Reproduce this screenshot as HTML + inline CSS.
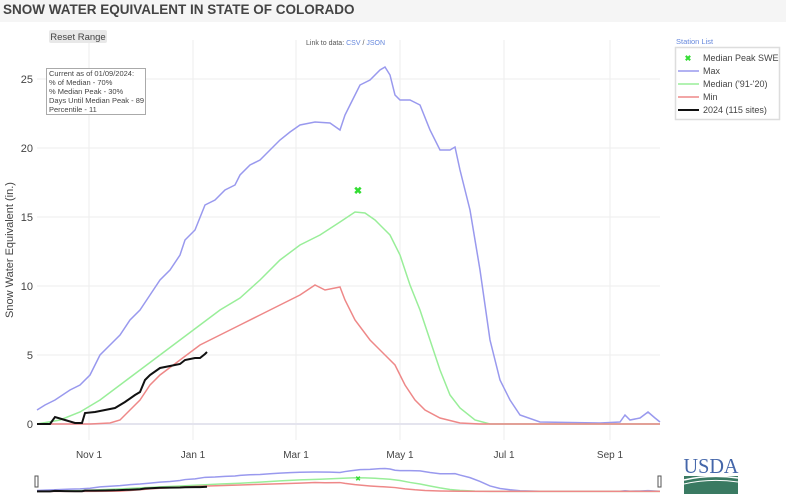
<!DOCTYPE html>
<html><head><style>
body{margin:0;width:786px;height:500px;background:#f5f5f5;font-family:"Liberation Sans",sans-serif;overflow:hidden;position:relative}
.t{position:absolute;left:3px;top:2px;font-weight:bold;font-size:13.5px;color:#444}
.panel{position:absolute;left:0;top:22px;width:786px;height:478px;background:#fff}
</style></head><body>
<div class="t">SNOW WATER EQUIVALENT IN STATE OF COLORADO</div>
<div class="panel"></div>
<svg width="786" height="500" style="position:absolute;left:0;top:0" font-family="Liberation Sans, sans-serif">
<defs>
<g id="series" fill="none" stroke-width="1.5">
<polyline vector-effect="non-scaling-stroke" stroke="#9999ee" points="37,410 45,405 55,400 70,390 80,385 90,375 100,355 110,345 120,335 130,320 140,310 150,295 160,280 170,270 180,255 185,240 195,230 205,205 215,200 225,190 235,185 240,175 250,165 260,160 270,150 280,140 290,132 300,125 315,122 330,123 340,130 345,115 350,105 360,85 370,80 380,70 385,67 390,75 395,95 400,100 410,100 420,105 430,130 440,150 450,150 455,147 460,170 470,210 480,270 490,340 500,380 510,400 520,415 540,422 600,423 620,422 625,415 630,420 640,418 648,412 655,418 660,422"/>
<polyline vector-effect="non-scaling-stroke" stroke="#99ee99" points="37,424 60,420 80,412 100,400 120,385 140,370 160,355 180,340 200,325 220,310 240,298 260,280 280,260 300,245 320,235 340,222 355,212 365,213 375,220 390,235 400,255 410,285 420,310 430,340 440,370 450,395 460,408 475,420 490,424 660,424"/>
<polyline vector-effect="non-scaling-stroke" stroke="#ee8888" points="37,424 90,424 110,423 120,420 130,410 140,400 150,385 160,375 180,360 200,345 220,335 240,325 260,315 280,305 300,295 315,285 325,290 340,287 345,300 355,320 370,340 385,355 395,365 405,385 415,400 425,410 440,418 460,423 480,424 660,424"/>
<polyline vector-effect="non-scaling-stroke" stroke="#111" stroke-width="2" points="37,424 50,424 55,417 65,420 75,423 82,423 85,413 95,412 105,410 115,408 125,402 135,395 140,392 145,380 150,375 160,368 170,366 180,364 185,360 195,358 200,358 205,354 207,352"/>
</g>
</defs>
<g stroke="#eee" stroke-width="1">
<line x1="89" y1="40" x2="89" y2="440"/><line x1="193" y1="40" x2="193" y2="440"/><line x1="296" y1="40" x2="296" y2="440"/><line x1="400" y1="40" x2="400" y2="440"/><line x1="504" y1="40" x2="504" y2="440"/><line x1="610" y1="40" x2="610" y2="440"/>
<line x1="37" y1="79" x2="660" y2="79"/><line x1="37" y1="148" x2="660" y2="148"/><line x1="37" y1="217" x2="660" y2="217"/><line x1="37" y1="286" x2="660" y2="286"/><line x1="37" y1="355" x2="660" y2="355"/>
</g>
<line x1="37" y1="424" x2="660" y2="424" stroke="#e4e4ee" stroke-width="2"/>
<g font-size="11" fill="#444" text-anchor="end">
<text x="33" y="83">25</text><text x="33" y="152">20</text><text x="33" y="221">15</text><text x="33" y="290">10</text><text x="33" y="359">5</text><text x="33" y="428">0</text>
</g>
<g font-size="10" fill="#444" text-anchor="middle">
<text x="89" y="458">Nov 1</text><text x="193" y="458">Jan 1</text><text x="296" y="458">Mar 1</text><text x="400" y="458">May 1</text><text x="504" y="458">Jul 1</text><text x="610" y="458">Sep 1</text>
</g>
<text transform="translate(13,250) rotate(-90)" font-size="11" fill="#444" text-anchor="middle">Snow Water Equivalent (in.)</text>
<use href="#series"/>
<text x="358" y="194" font-size="10" fill="#33dd33" text-anchor="middle" font-weight="bold">✖</text>
<g transform="translate(0,464.2) scale(1,0.064)"><use href="#series"/></g>
<text x="358" y="481" font-size="7" fill="#33dd33" text-anchor="middle">✖</text>
<rect x="35" y="476" width="3" height="11" fill="#fff" stroke="#555"/>
<rect x="658" y="476" width="3" height="11" fill="#fff" stroke="#555"/>
<rect x="49" y="30" width="58" height="13" rx="2" fill="#e8e8e8"/>
<text x="78" y="40" font-size="9.5" fill="#444" text-anchor="middle">Reset Range</text>
<text x="306" y="45" font-size="7" fill="#555">Link to data: <tspan fill="#6688dd">CSV</tspan> / <tspan fill="#6688dd">JSON</tspan></text>
<rect x="46.5" y="68.5" width="99" height="46" fill="#fff" stroke="#aaa"/>
<g font-size="7.5" fill="#444">
<text x="49" y="76">Current as of 01/09/2024:</text>
<text x="49" y="85">% of Median - 70%</text>
<text x="49" y="94">% Median Peak - 30%</text>
<text x="49" y="103">Days Until Median Peak - 89</text>
<text x="49" y="112">Percentile - 11</text>
</g>
<text x="676" y="44" font-size="7.5" fill="#6688dd">Station List</text>
<rect x="675.5" y="47.5" width="104" height="72" fill="#fff" stroke="#ddd" stroke-width="1.5"/>
<g font-size="9" fill="#444">
<text x="688" y="61" font-size="8" fill="#33dd33" text-anchor="middle" font-weight="bold">✖</text><text x="703" y="61">Median Peak SWE</text>
<line x1="678" y1="71" x2="699" y2="71" stroke="#9999ee" stroke-width="1.5"/><text x="703" y="74">Max</text>
<line x1="678" y1="84" x2="699" y2="84" stroke="#99ee99" stroke-width="1.5"/><text x="703" y="87">Median ('91-'20)</text>
<line x1="678" y1="97" x2="699" y2="97" stroke="#ee8888" stroke-width="1.5"/><text x="703" y="100">Min</text>
<line x1="678" y1="110" x2="699" y2="110" stroke="#111" stroke-width="2"/><text x="703" y="113">2024 (115 sites)</text>
</g>
<text x="711" y="473" font-size="21" fill="#4466aa" text-anchor="middle" font-family="Liberation Serif, serif" textLength="55" lengthAdjust="spacingAndGlyphs">USDA</text>
<rect x="684" y="476" width="54" height="18" fill="#3a7a62"/>
<path d="M684,480 Q710,474 738,478" stroke="#fff" stroke-width="1.5" fill="none"/>
<path d="M684,484 Q710,478 738,482" stroke="#fff" stroke-width="1" fill="none"/>
</svg>
</body></html>
